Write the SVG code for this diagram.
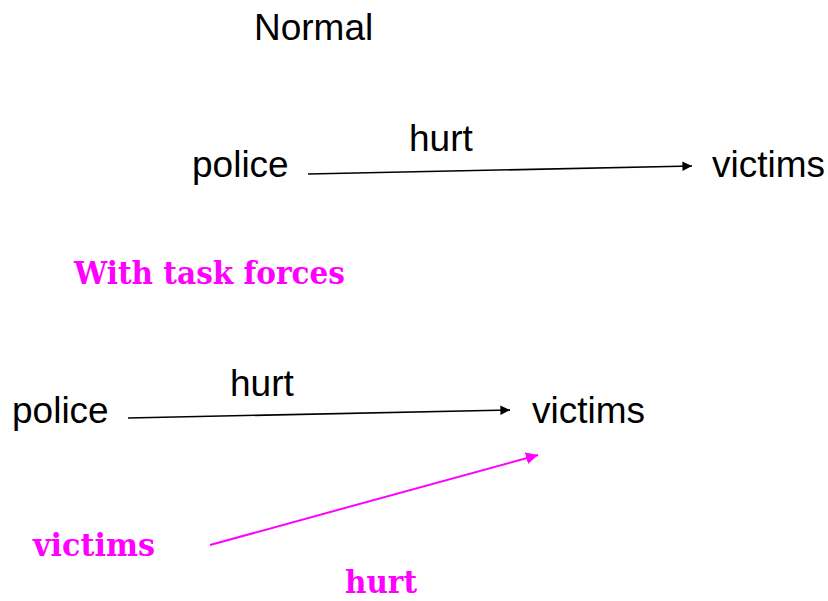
<svg xmlns="http://www.w3.org/2000/svg" width="828" height="601" viewBox="0 0 828 601">
  <style>
    .lbl { font-family: "Liberation Sans", Arial, sans-serif; font-size: 37px; fill: #000; }
    .hl { font-family: "DejaVu Serif", "Liberation Serif", serif; font-weight: bold; font-size: 32px; fill: #ff00ff; }
    .edge { stroke: #000; stroke-width: 1.6; fill: none; }
    .edge-m { stroke: #ff00ff; stroke-width: 2; fill: none; }
  </style>
  <defs>
    <marker id="arrowK" viewBox="0 0 10 10" refX="10" refY="5" markerWidth="6" markerHeight="6" markerUnits="strokeWidth" orient="auto">
      <path d="M0,0 L10,5 L0,10 z" fill="#000"/>
    </marker>
    <marker id="arrowM" viewBox="0 0 10 10" refX="10" refY="5" markerWidth="6" markerHeight="6" markerUnits="strokeWidth" orient="auto">
      <path d="M0,0 L10,5 L0,10 z" fill="#ff00ff"/>
    </marker>
  </defs>
  <rect width="828" height="601" fill="#fff"/>

  <g id="title-normal"><text class="lbl" x="254" y="40">Normal</text></g>
  <g id="police-1"><text class="lbl" x="192" y="177">police</text></g>
  <g id="victims-1"><text class="lbl" x="712" y="177">victims</text></g>
  <g id="title-task"><text class="hl" x="74" y="284" textLength="271" lengthAdjust="spacingAndGlyphs">With task forces</text></g>
  <g id="police-2"><text class="lbl" x="12" y="423">police</text></g>
  <g id="victims-2"><text class="lbl" x="532" y="423">victims</text></g>
  <g id="victims-3"><text class="hl" x="33" y="556" textLength="122" lengthAdjust="spacingAndGlyphs">victims</text></g>

  <g id="connectors">
    <line class="edge" x1="308" y1="174" x2="692" y2="166" marker-end="url(#arrowK)"/>
    <text class="lbl" x="409" y="151">hurt</text>
    <line class="edge" x1="128" y1="418" x2="510" y2="410" marker-end="url(#arrowK)"/>
    <text class="lbl" x="230" y="396">hurt</text>
    <line class="edge-m" x1="210" y1="545" x2="538" y2="455" marker-end="url(#arrowM)"/>
    <text class="hl" x="345" y="593" textLength="72" lengthAdjust="spacingAndGlyphs">hurt</text>
  </g>
</svg>
